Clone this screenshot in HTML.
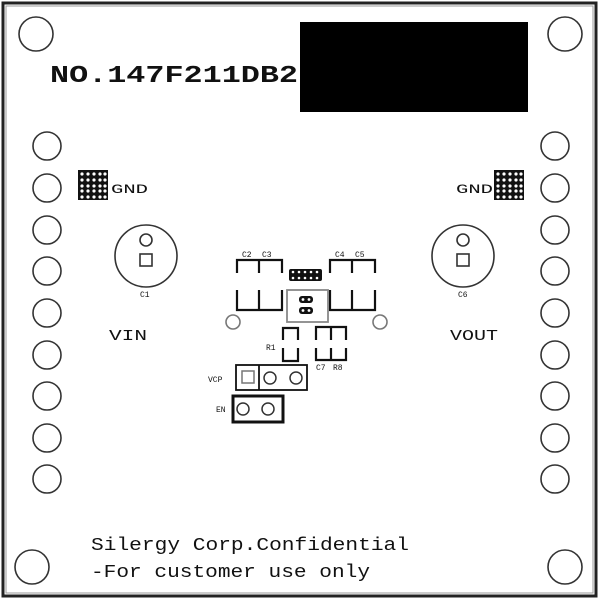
<!DOCTYPE html>
<html><head><meta charset="utf-8"><style>
html,body{margin:0;padding:0;background:#fff;}
svg{display:block;}
text{font-family:"Liberation Mono",monospace;fill:#111;}
</style></head><body>
<svg width="600" height="600" viewBox="0 0 600 600" xmlns="http://www.w3.org/2000/svg">
<rect x="0" y="0" width="600" height="600" fill="#fff"/>
<rect x="3" y="3" width="593" height="593" fill="none" stroke="#222" stroke-width="3"/>
<rect x="6" y="6" width="587" height="587" fill="none" stroke="#999" stroke-width="1"/>
<g fill="none" stroke="#333" stroke-width="1.6">
<circle cx="36" cy="34" r="17"/><circle cx="565" cy="34" r="17"/>
<circle cx="32" cy="567" r="17"/><circle cx="565" cy="567" r="17"/>
<g id="col">
<circle cx="47" cy="146" r="14"/><circle cx="47" cy="188" r="14"/><circle cx="47" cy="230" r="14"/>
<circle cx="47" cy="271" r="14"/><circle cx="47" cy="313" r="14"/><circle cx="47" cy="355" r="14"/>
<circle cx="47" cy="396" r="14"/><circle cx="47" cy="438" r="14"/><circle cx="47" cy="479" r="14"/>
</g>
<use href="#col" transform="translate(508,0)"/>
<circle cx="146" cy="256" r="31"/>
<circle cx="146" cy="240" r="6"/>
<rect x="140" y="254" width="12" height="12"/>
<circle cx="463" cy="256" r="31"/>
<circle cx="463" cy="240" r="6"/>
<rect x="457" y="254" width="12" height="12"/>
<circle cx="233" cy="322" r="7" stroke="#777"/>
<circle cx="380" cy="322" r="7" stroke="#777"/>
</g>
<rect x="300" y="22" width="228" height="90" fill="#000"/>
<text x="50" y="82" font-size="24" font-weight="bold" textLength="248" lengthAdjust="spacingAndGlyphs">NO.147F211DB2</text>
<!-- GND grids -->
<g id="grid">
<rect x="78" y="170" width="30" height="30" fill="#111"/>
<g fill="#fff">
<circle cx="82" cy="174" r="1.6"/><circle cx="88" cy="174" r="1.6"/><circle cx="94" cy="174" r="1.6"/><circle cx="100" cy="174" r="1.6"/><circle cx="105" cy="174" r="1.6"/>
<circle cx="82" cy="180" r="1.6"/><circle cx="88" cy="180" r="1.6"/><circle cx="94" cy="180" r="1.6"/><circle cx="100" cy="180" r="1.6"/><circle cx="105" cy="180" r="1.6"/>
<circle cx="82" cy="186" r="1.6"/><circle cx="88" cy="186" r="1.6"/><circle cx="94" cy="186" r="1.6"/><circle cx="100" cy="186" r="1.6"/><circle cx="105" cy="186" r="1.6"/>
<circle cx="82" cy="191" r="1.6"/><circle cx="88" cy="191" r="1.6"/><circle cx="94" cy="191" r="1.6"/><circle cx="100" cy="191" r="1.6"/><circle cx="105" cy="191" r="1.6"/>
<circle cx="82" cy="197" r="1.6"/><circle cx="88" cy="197" r="1.6"/><circle cx="94" cy="197" r="1.6"/><circle cx="100" cy="197" r="1.6"/><circle cx="105" cy="197" r="1.6"/>
</g></g>
<use href="#grid" transform="translate(416,0)"/>
<text x="111" y="193" font-size="13" textLength="37" lengthAdjust="spacingAndGlyphs">GND</text>
<text x="456" y="193" font-size="13" textLength="37" lengthAdjust="spacingAndGlyphs">GND</text>
<text x="140" y="297" font-size="8">C1</text>
<text x="458" y="297" font-size="8">C6</text>
<text x="109" y="340" font-size="15" textLength="38" lengthAdjust="spacingAndGlyphs">VIN</text>
<text x="450" y="340" font-size="15" textLength="48" lengthAdjust="spacingAndGlyphs">VOUT</text>
<!-- caps -->
<g fill="none" stroke="#111" stroke-width="2.2">
<path d="M237 273V260H282V273M237 290V310H282V290M259 260V273M259 290V310"/>
<path d="M330 273V260H375V273M330 290V310H375V290M352 260V273M352 290V310"/>
<path d="M283 340V328H298V340M283 348V361H298V348"/>
<path d="M316 340V327H346V340M316 348V360H346V348M331 327V340M331 348V360"/>
<rect x="236" y="365" width="71" height="25" stroke-width="1.8"/>
<line x1="259" y1="365" x2="259" y2="390" stroke-width="1.8"/>
<rect x="233" y="396" width="50" height="26" stroke-width="3"/>
</g>
<g fill="none" stroke="#333" stroke-width="1.5">
<rect x="242" y="371" width="12" height="12" stroke="#777"/>
<circle cx="270" cy="378" r="6"/><circle cx="296" cy="378" r="6"/>
<circle cx="243" cy="409" r="6"/><circle cx="268" cy="409" r="6"/>
</g>
<rect x="287" y="290" width="41" height="32" fill="none" stroke="#888" stroke-width="1.8"/>
<g fill="#111">
<rect x="289" y="269" width="33" height="12" rx="2"/>
<rect x="299" y="296" width="14" height="7" rx="3"/>
<rect x="299" y="307" width="14" height="7" rx="3"/>
</g>
<g fill="#fff">
<circle cx="293" cy="272" r="1.3"/><circle cx="299" cy="272" r="1.3"/><circle cx="305" cy="272" r="1.3"/><circle cx="311" cy="272" r="1.3"/><circle cx="317" cy="272" r="1.3"/>
<circle cx="293" cy="278" r="1.3"/><circle cx="299" cy="278" r="1.3"/><circle cx="305" cy="278" r="1.3"/><circle cx="311" cy="278" r="1.3"/><circle cx="317" cy="278" r="1.3"/>
<circle cx="303" cy="299.5" r="1.4"/><circle cx="309" cy="299.5" r="1.4"/>
<circle cx="303" cy="310.5" r="1.4"/><circle cx="309" cy="310.5" r="1.4"/>
</g>
<g font-size="8">
<text x="242" y="257">C2</text><text x="262" y="257">C3</text>
<text x="335" y="257">C4</text><text x="355" y="257">C5</text>
<text x="266" y="350">R1</text>
<text x="316" y="370">C7</text><text x="333" y="370">R8</text>
<text x="208" y="382">VCP</text>
<text x="216" y="412">EN</text>
</g>
<text x="91" y="550" font-size="18" fill="#333" textLength="318" lengthAdjust="spacingAndGlyphs">Silergy Corp.Confidential</text>
<text x="91" y="577" font-size="18" fill="#333" textLength="279" lengthAdjust="spacingAndGlyphs">-For customer use only</text>
</svg>
</body></html>
